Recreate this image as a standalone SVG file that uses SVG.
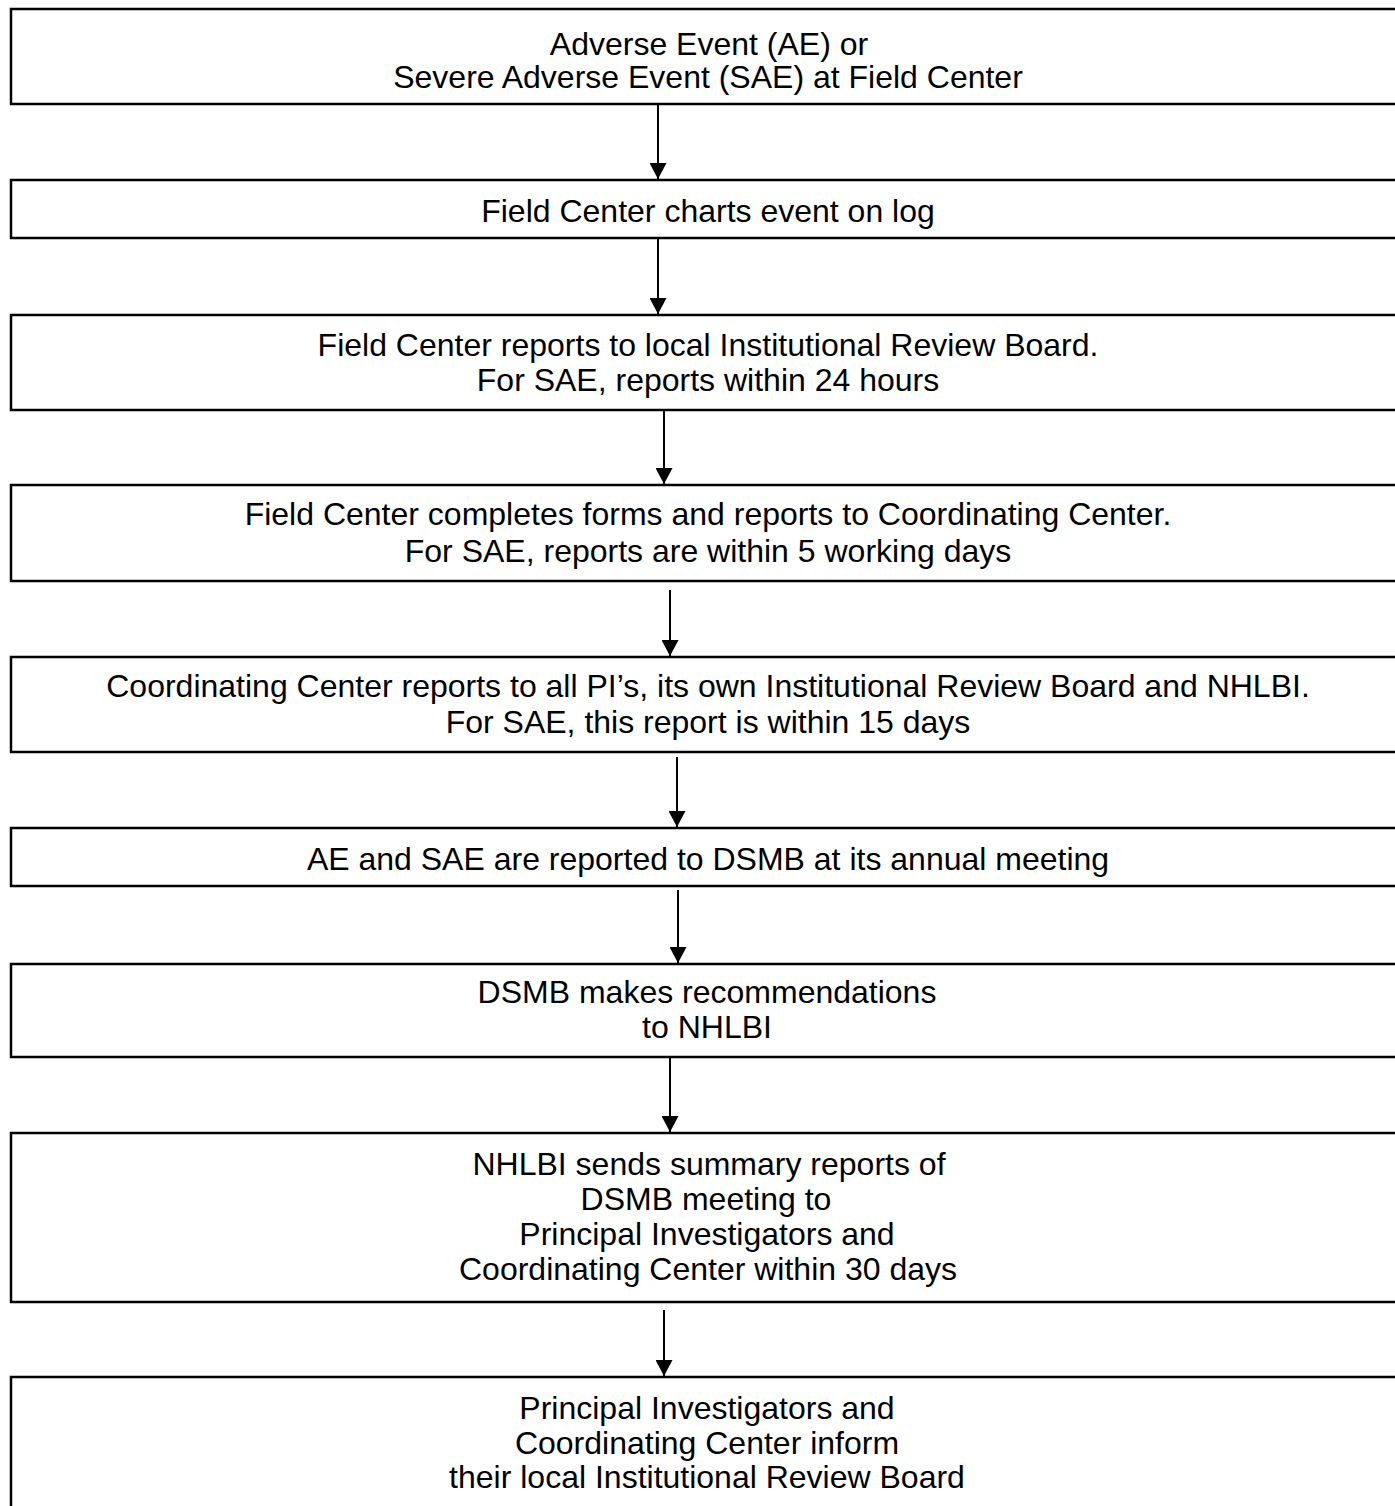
<svg xmlns="http://www.w3.org/2000/svg" width="1395" height="1506" viewBox="0 0 1395 1506">
<style>
.box{fill:#fff;stroke:#000;stroke-width:2.5}
.t{font-family:"Liberation Sans",Arial,sans-serif;font-size:32px;fill:#000;text-anchor:middle}
.c{stroke:#000;stroke-width:2;fill:none;marker-end:url(#ah)}
</style>
<defs>
<marker id="ah" markerWidth="17" markerHeight="17" viewBox="0 0 16 17" refX="16" refY="8.5" orient="auto" markerUnits="userSpaceOnUse">
<path d="M0,0 L16,8.5 L0,17 Z" fill="#000"/>
</marker>
</defs>
<rect width="1395" height="1506" fill="#fff"/>
<g id="n1"><rect class="box" x="11" y="9" width="1400" height="95"/>
<text class="t" x="709" y="55">Adverse Event (AE) or</text>
<text class="t" x="708" y="88">Severe Adverse Event (SAE) at Field Center</text></g>
<g id="n2"><rect class="box" x="11" y="180" width="1400" height="58"/>
<text class="t" x="708" y="222">Field Center charts event on log</text></g>
<g id="n3"><rect class="box" x="11" y="315" width="1400" height="95"/>
<text class="t" x="708" y="356">Field Center reports to local Institutional Review Board.</text>
<text class="t" x="708" y="391">For SAE, reports within 24 hours</text></g>
<g id="n4"><rect class="box" x="11" y="485" width="1400" height="96"/>
<text class="t" x="708" y="525">Field Center completes forms and reports to Coordinating Center.</text>
<text class="t" x="708" y="562">For SAE, reports are within 5 working days</text></g>
<g id="n5"><rect class="box" x="11" y="657" width="1400" height="95"/>
<text class="t" x="708" y="697">Coordinating Center reports to all PI’s, its own Institutional Review Board and NHLBI.</text>
<text class="t" x="708" y="733">For SAE, this report is within 15 days</text></g>
<g id="n6"><rect class="box" x="11" y="828" width="1400" height="58"/>
<text class="t" x="708" y="870">AE and SAE are reported to DSMB at its annual meeting</text></g>
<g id="n7"><rect class="box" x="11" y="964" width="1400" height="93"/>
<text class="t" x="707" y="1003">DSMB makes recommendations</text>
<text class="t" x="707" y="1038">to NHLBI</text></g>
<g id="n8"><rect class="box" x="11" y="1133" width="1400" height="169"/>
<text class="t" x="709" y="1175">NHLBI sends summary reports of</text>
<text class="t" x="706" y="1210">DSMB meeting to</text>
<text class="t" x="707" y="1245">Principal Investigators and</text>
<text class="t" x="708" y="1280">Coordinating Center within 30 days</text></g>
<g id="n9"><rect class="box" x="11" y="1377" width="1400" height="160"/>
<text class="t" x="707" y="1419">Principal Investigators and</text>
<text class="t" x="707" y="1454">Coordinating Center inform</text>
<text class="t" x="707" y="1488">their local Institutional Review Board</text></g>
<g id="connectors">
<line class="c" x1="658" y1="105" x2="658" y2="179"/>
<line class="c" x1="658" y1="239" x2="658" y2="314"/>
<line class="c" x1="664" y1="411" x2="664" y2="484"/>
<line class="c" x1="670" y1="590" x2="670" y2="656"/>
<line class="c" x1="677" y1="757" x2="677" y2="827"/>
<line class="c" x1="678" y1="890" x2="678" y2="963"/>
<line class="c" x1="670" y1="1058" x2="670" y2="1132"/>
<line class="c" x1="664" y1="1310" x2="664" y2="1376"/>
</g>
</svg>
